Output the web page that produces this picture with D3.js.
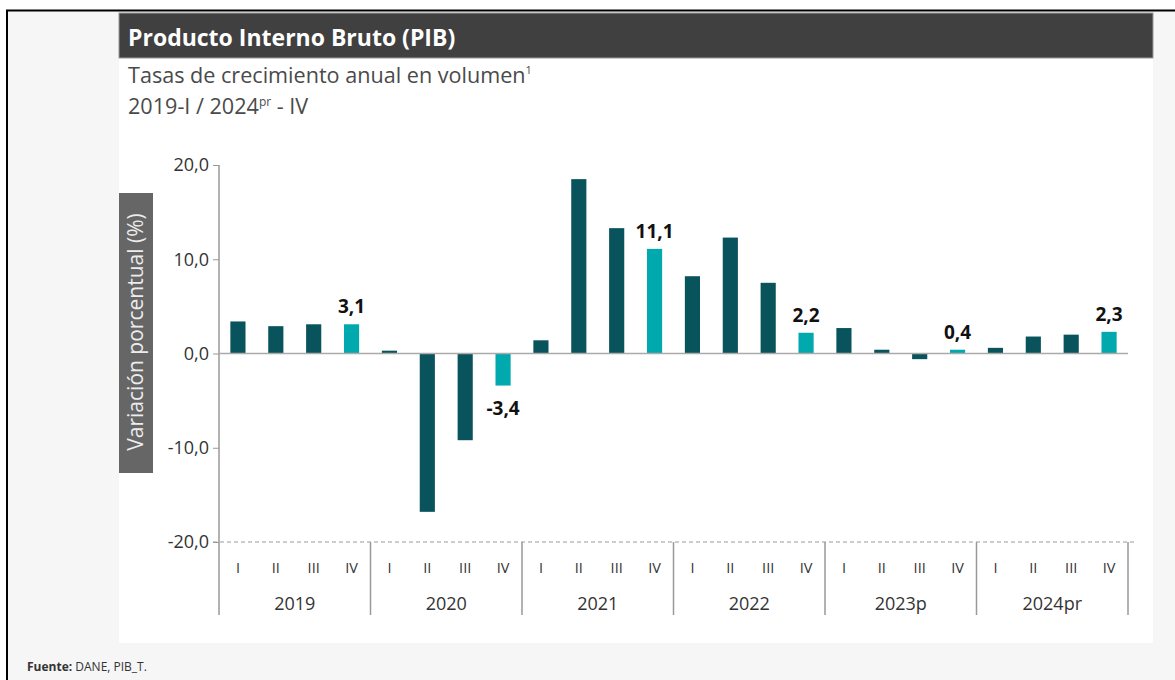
<!DOCTYPE html>
<html>
<head>
<meta charset="utf-8">
<script src="https://cdn.jsdelivr.net/npm/d3@7"></script>
<style>
  html, body { margin: 0; padding: 0; background: #fff; overflow: hidden; }
  svg { display: block; font-family: "Open Sans", "Noto Sans", sans-serif; }
</style>
</head>
<body>
<div id="chart"></div>
<script>
// Data (growth rates, %)
const years = ["2019", "2020", "2021", "2022", "2023p", "2024pr"];
const quarters = ["I", "II", "III", "IV"];
const values = [
  3.4, 2.9, 3.1, 3.1,
  0.3, -16.8, -9.2, -3.4,
  1.4, 18.5, 13.3, 11.1,
  8.2, 12.3, 7.5, 2.2,
  2.7, 0.4, -0.6, 0.4,
  0.6, 1.8, 2.0, 2.3
];
const yTicks = [-20, -10, 0, 10, 20];

const width = 1175, height = 680;
// comma decimals, plain hyphen for negatives
const fmt = v => d3.format(".1f")(v).replace(".", ",").replace("\u2212", "-");

const data = [];
years.forEach((yr, i) => {
  quarters.forEach((q, j) => {
    data.push({ key: yr + "-" + q, year: yr, quarter: q, value: values[i * 4 + j], last: j === 3 });
  });
});

const svg = d3.select("#chart").append("svg")
  .attr("width", width)
  .attr("height", height);

// page frame
svg.append("rect").attr("x", 7).attr("y", 11).attr("width", width).attr("height", height)
  .attr("fill", "#f6f6f6");
svg.append("line").attr("x1", 6).attr("x2", width).attr("y1", 10.5).attr("y2", 10.5)
  .attr("stroke", "#000").attr("stroke-width", 2);
svg.append("line").attr("x1", 7).attr("x2", 7).attr("y1", 10).attr("y2", height)
  .attr("stroke", "#000").attr("stroke-width", 2);

// white panel + title bar
svg.append("rect").attr("x", 119).attr("y", 13).attr("width", 1034).attr("height", 630)
  .attr("fill", "#fff");
svg.append("rect").attr("x", 119).attr("y", 13).attr("width", 1034).attr("height", 45)
  .attr("fill", "#404040").attr("stroke", "#9a9a9a").attr("stroke-width", 1);
svg.append("text").attr("x", 128).attr("y", 46)
  .attr("fill", "#fff").attr("font-size", 23).attr("font-weight", 700)
  .text("Producto Interno Bruto (PIB)");

const sub1 = svg.append("text").attr("x", 128).attr("y", 83)
  .attr("fill", "#4a4a4a").attr("font-size", 21.6);
sub1.append("tspan").text("Tasas de crecimiento anual en volumen");
sub1.append("tspan").attr("font-size", 11).attr("dy", -9).text("1");

const sub2 = svg.append("text").attr("x", 128).attr("y", 114)
  .attr("fill", "#4a4a4a").attr("font-size", 21.6);
sub2.append("tspan").text("2019-I / 2024");
sub2.append("tspan").attr("font-size", 12).attr("dy", -8).text("pr");
sub2.append("tspan").attr("dy", 8).text(" - IV");

// footer (sits at the bottom edge)
const foot = svg.append("text").attr("x", 27).attr("y", 671)
  .attr("fill", "#333").attr("font-size", 12);
foot.append("tspan").attr("font-weight", 700).text("Fuente: ");
foot.append("tspan").text("DANE, PIB_T.");

// y axis label box
svg.append("rect").attr("x", 119).attr("y", 193).attr("width", 34).attr("height", 280)
  .attr("fill", "#666");
svg.append("text")
  .attr("transform", "translate(143,332) rotate(-90)")
  .attr("text-anchor", "middle")
  .attr("fill", "#ececec").attr("font-size", 21)
  .text("Variación porcentual (%)");

// scales
const plotLeft = 219, plotRight = 1128, yTop = 165, yBottom = 542;
const x = d3.scaleBand()
  .domain(data.map(d => d.key))
  .range([plotLeft, plotRight])
  .paddingInner(0.6)
  .paddingOuter(0.3);
const y = d3.scaleLinear().domain([-20, 20]).range([yBottom, yTop]);

// y axis
const yAxis = svg.append("g")
  .attr("transform", `translate(${plotLeft},0)`)
  .call(d3.axisLeft(y).tickValues(yTicks).tickFormat(fmt).tickSize(6).tickPadding(4));
yAxis.select(".domain").remove();
yAxis.selectAll(".tick line").attr("stroke", "#999");
yAxis.selectAll(".tick text").attr("fill", "#333").attr("font-size", 18)
  .attr("font-family", "\"Open Sans\", sans-serif");

svg.append("line")
  .attr("x1", plotLeft).attr("x2", plotLeft)
  .attr("y1", yTop).attr("y2", 615)
  .attr("stroke", "#999").attr("stroke-width", 1.5);

// dashed baseline at -20
svg.append("line")
  .attr("x1", plotLeft - 6).attr("x2", plotRight + 7)
  .attr("y1", y(-20)).attr("y2", y(-20))
  .attr("stroke", "#9a9a9a").attr("stroke-dasharray", "4,3");

// bars
svg.append("g").selectAll("rect")
  .data(data)
  .join("rect")
  .attr("x", d => x(d.key))
  .attr("width", x.bandwidth())
  .attr("y", d => y(Math.max(0, d.value)))
  .attr("height", d => Math.abs(y(d.value) - y(0)))
  .attr("fill", d => d.last ? "#00a9ad" : "#09545c");

// zero line
svg.append("line")
  .attr("x1", plotLeft).attr("x2", plotRight)
  .attr("y1", y(0)).attr("y2", y(0))
  .attr("stroke", "#aaa").attr("stroke-width", 1.5);

// value labels on Q4 bars
svg.append("g").selectAll("text")
  .data(data.filter(d => d.last))
  .join("text")
  .attr("x", d => x(d.key) + x.bandwidth() / 2)
  .attr("y", d => d.value >= 0 ? y(d.value) - 11 : y(d.value) + 29)
  .attr("text-anchor", "middle")
  .attr("fill", "#111").attr("font-size", 19).attr("font-weight", 700)
  .text(d => fmt(d.value));

// quarter labels
svg.append("g").selectAll("text")
  .data(data)
  .join("text")
  .attr("x", d => x(d.key) + x.bandwidth() / 2)
  .attr("y", 573)
  .attr("text-anchor", "middle")
  .attr("fill", "#333").attr("font-size", 14.5)
  .text(d => d.quarter);

// year groups
const step = x.step();
years.forEach((yr, i) => {
  const x0 = plotLeft + i * 4 * step;
  const x1 = x0 + 4 * step;
  svg.append("line")
    .attr("x1", x1).attr("x2", x1).attr("y1", yBottom).attr("y2", 615)
    .attr("stroke", "#999").attr("stroke-width", 1.5);
  svg.append("text")
    .attr("x", (x0 + x1) / 2).attr("y", 610)
    .attr("text-anchor", "middle")
    .attr("fill", "#333").attr("font-size", 18)
    .text(yr);
});
</script>
</body>
</html>
